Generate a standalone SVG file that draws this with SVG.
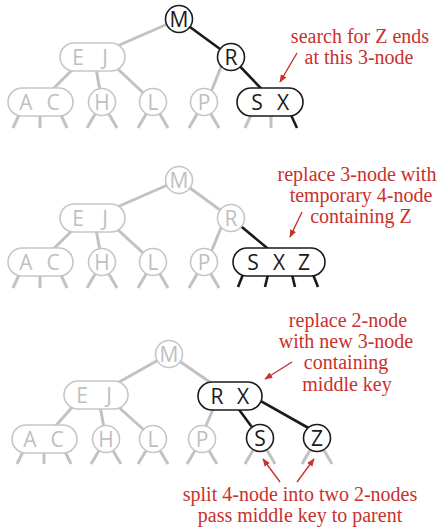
<svg xmlns="http://www.w3.org/2000/svg" width="444" height="529" viewBox="0 0 444 529">
<defs>
<style>
.ge{stroke:#c2c2c2;stroke-width:3;fill:none;stroke-linecap:butt}
.be{stroke:#1a1a1a;stroke-width:2.6;fill:none}
.gn{fill:#fff;stroke:#c6c6c6;stroke-width:1.6}
.bn{fill:#fff;stroke:#1a1a1a;stroke-width:1.6}
.gk{font-family:"Open Sans","DejaVu Sans",sans-serif;font-size:21px;fill:#bfbfbf;text-anchor:middle}
.bk{font-family:"Open Sans","DejaVu Sans",sans-serif;font-size:21px;fill:#1a1a1a;text-anchor:middle}
.note{font-family:"Liberation Serif","Times New Roman",serif;font-size:20px;fill:#c8312c;text-anchor:middle}
.arr{stroke:#c8312c;stroke-width:1.4;fill:none;marker-end:url(#ah)}
</style>
<marker id="ah" viewBox="0 0 10 10" refX="9" refY="5" markerWidth="8" markerHeight="8" markerUnits="userSpaceOnUse" orient="auto">
<path d="M0,1 L10,5 L0,9 z" fill="#c8312c"/>
</marker>
</defs>

<g id="connectors">
<!-- panel 1 -->
<line class="ge" x1="179" y1="19" x2="92" y2="57"/>
<line class="be" x1="179" y1="19" x2="231" y2="57"/>
<line class="ge" x1="85" y1="57" x2="40" y2="102"/>
<line class="ge" x1="94" y1="57" x2="102" y2="102"/>
<line class="ge" x1="105" y1="57" x2="153" y2="102"/>
<line class="ge" x1="225" y1="57" x2="207" y2="102"/>
<line class="be" x1="231" y1="57" x2="274" y2="102"/>
<!-- panel 1 legs -->
<line class="ge" x1="25" y1="102" x2="13" y2="128"/>
<line class="ge" x1="40" y1="102" x2="40" y2="128"/>
<line class="ge" x1="55" y1="102" x2="67" y2="128"/>
<line class="ge" x1="102" y1="102" x2="87" y2="128"/>
<line class="ge" x1="102" y1="102" x2="117" y2="128"/>
<line class="ge" x1="153" y1="102" x2="138" y2="128"/>
<line class="ge" x1="153" y1="102" x2="168" y2="128"/>
<line class="ge" x1="204" y1="102" x2="189" y2="128"/>
<line class="ge" x1="204" y1="102" x2="219" y2="128"/>
<line class="ge" x1="257" y1="102" x2="245" y2="128"/>
<line class="ge" x1="271" y1="102" x2="271" y2="128"/>
<line class="be" x1="285" y1="102" x2="297" y2="128"/>

<!-- panel 2 -->
<line class="ge" x1="179" y1="180" x2="92" y2="218"/>
<line class="ge" x1="179" y1="180" x2="231" y2="218"/>
<line class="ge" x1="85" y1="218" x2="40" y2="262"/>
<line class="ge" x1="94" y1="218" x2="102" y2="262"/>
<line class="ge" x1="105" y1="218" x2="153" y2="262"/>
<line class="ge" x1="225" y1="218" x2="207" y2="262"/>
<line class="be" x1="231" y1="218" x2="284" y2="262"/>
<line class="ge" x1="25" y1="262" x2="13" y2="288"/>
<line class="ge" x1="40" y1="262" x2="40" y2="288"/>
<line class="ge" x1="55" y1="262" x2="67" y2="288"/>
<line class="ge" x1="102" y1="262" x2="87" y2="288"/>
<line class="ge" x1="102" y1="262" x2="117" y2="288"/>
<line class="ge" x1="153" y1="262" x2="138" y2="288"/>
<line class="ge" x1="153" y1="262" x2="168" y2="288"/>
<line class="ge" x1="204" y1="262" x2="189" y2="288"/>
<line class="ge" x1="204" y1="262" x2="219" y2="288"/>
<line class="be" x1="248" y1="262" x2="238" y2="287"/>
<line class="be" x1="271" y1="262" x2="265" y2="287"/>
<line class="be" x1="289" y1="262" x2="295" y2="287"/>
<line class="be" x1="308" y1="262" x2="318" y2="287"/>

<!-- panel 3 -->
<line class="ge" x1="169" y1="354" x2="96" y2="395"/>
<line class="ge" x1="169" y1="354" x2="230" y2="396"/>
<line class="ge" x1="83" y1="395" x2="44" y2="439"/>
<line class="ge" x1="98" y1="395" x2="106" y2="439"/>
<line class="ge" x1="105" y1="395" x2="154" y2="439"/>
<line class="ge" x1="219" y1="396" x2="200" y2="439"/>
<line class="be" x1="229" y1="396" x2="260" y2="438"/>
<line class="be" x1="252" y1="396" x2="312" y2="430"/>
<line class="ge" x1="29" y1="439" x2="17" y2="464"/>
<line class="ge" x1="44" y1="439" x2="44" y2="464"/>
<line class="ge" x1="59" y1="439" x2="71" y2="464"/>
<line class="ge" x1="106" y1="439" x2="91" y2="464"/>
<line class="ge" x1="106" y1="439" x2="121" y2="464"/>
<line class="ge" x1="153" y1="439" x2="138" y2="464"/>
<line class="ge" x1="153" y1="439" x2="168" y2="464"/>
<line class="ge" x1="202" y1="439" x2="187" y2="464"/>
<line class="ge" x1="202" y1="439" x2="217" y2="464"/>
<line class="ge" x1="260" y1="438" x2="245" y2="464"/>
<line class="ge" x1="260" y1="438" x2="275" y2="464"/>
<line class="ge" x1="317" y1="438" x2="302" y2="464"/>
<line class="ge" x1="317" y1="438" x2="332" y2="464"/>

<!-- annotation arrows -->
<line class="arr" x1="297" y1="53" x2="280" y2="82"/>
<line class="arr" x1="302" y1="212" x2="290" y2="237"/>
<line class="arr" x1="292" y1="362" x2="265" y2="379"/>
<line class="arr" x1="280" y1="482" x2="263" y2="459"/>
<line class="arr" x1="297" y1="482" x2="314" y2="459"/>
</g>

<!-- panel 1 nodes -->
<g id="p1-M"><circle class="bn" cx="179" cy="19" r="13.5"/><text class="bk" x="179" y="26.5">M</text></g>
<g id="p1-EJ"><rect class="gn" x="60" y="43" width="65" height="28" rx="14"/><text class="gk" x="78" y="64.5">E</text><text class="gk" x="105" y="64.5">J</text></g>
<g id="p1-R"><circle class="bn" cx="231" cy="57" r="13.5"/><text class="bk" x="231" y="64.5">R</text></g>
<g id="p1-AC"><rect class="gn" x="8" y="88" width="65" height="28" rx="14"/><text class="gk" x="26" y="109.5">A</text><text class="gk" x="53" y="109.5">C</text></g>
<g id="p1-H"><circle class="gn" cx="102" cy="102" r="13.5"/><text class="gk" x="102" y="109.5">H</text></g>
<g id="p1-L"><circle class="gn" cx="153" cy="102" r="13.5"/><text class="gk" x="153" y="109.5">L</text></g>
<g id="p1-P"><circle class="gn" cx="204" cy="102" r="13.5"/><text class="gk" x="204" y="109.5">P</text></g>
<g id="p1-SX"><rect class="bn" x="237" y="88" width="66" height="28" rx="14"/><text class="bk" x="257" y="109.5">S</text><text class="bk" x="283" y="109.5">X</text></g>

<!-- panel 2 nodes -->
<g id="p2-M"><circle class="gn" cx="179" cy="180" r="13.5"/><text class="gk" x="179" y="187.5">M</text></g>
<g id="p2-EJ"><rect class="gn" x="60" y="204" width="65" height="28" rx="14"/><text class="gk" x="78" y="225.5">E</text><text class="gk" x="105" y="225.5">J</text></g>
<g id="p2-R"><circle class="gn" cx="231" cy="218" r="13.5"/><text class="gk" x="231" y="225.5">R</text></g>
<g id="p2-AC"><rect class="gn" x="8" y="248" width="65" height="28" rx="14"/><text class="gk" x="26" y="269.5">A</text><text class="gk" x="53" y="269.5">C</text></g>
<g id="p2-H"><circle class="gn" cx="102" cy="262" r="13.5"/><text class="gk" x="102" y="269.5">H</text></g>
<g id="p2-L"><circle class="gn" cx="153" cy="262" r="13.5"/><text class="gk" x="153" y="269.5">L</text></g>
<g id="p2-P"><circle class="gn" cx="204" cy="262" r="13.5"/><text class="gk" x="204" y="269.5">P</text></g>
<g id="p2-SXZ"><rect class="bn" x="233" y="248" width="92" height="28" rx="14"/><text class="bk" x="253" y="269.5">S</text><text class="bk" x="279" y="269.5">X</text><text class="bk" x="304" y="269.5">Z</text></g>

<!-- panel 3 nodes -->
<g id="p3-M"><circle class="gn" cx="169" cy="354" r="13.5"/><text class="gk" x="169" y="361.5">M</text></g>
<g id="p3-EJ"><rect class="gn" x="64" y="381" width="64" height="28" rx="14"/><text class="gk" x="82" y="402.5">E</text><text class="gk" x="109" y="402.5">J</text></g>
<g id="p3-RX"><rect class="bn" x="198" y="382" width="64" height="28" rx="14"/><text class="bk" x="217" y="403.5">R</text><text class="bk" x="243" y="403.5">X</text></g>
<g id="p3-AC"><rect class="gn" x="12" y="425" width="65" height="28" rx="14"/><text class="gk" x="30" y="446.5">A</text><text class="gk" x="57" y="446.5">C</text></g>
<g id="p3-H"><circle class="gn" cx="106" cy="439" r="13.5"/><text class="gk" x="106" y="446.5">H</text></g>
<g id="p3-L"><circle class="gn" cx="153" cy="439" r="13.5"/><text class="gk" x="153" y="446.5">L</text></g>
<g id="p3-P"><circle class="gn" cx="202" cy="439" r="13.5"/><text class="gk" x="202" y="446.5">P</text></g>
<g id="p3-S"><circle class="bn" cx="260" cy="438" r="13.5"/><text class="bk" x="260" y="445.5">S</text></g>
<g id="p3-Z"><circle class="bn" cx="317" cy="438" r="13.5"/><text class="bk" x="317" y="445.5">Z</text></g>

<!-- annotations -->
<g id="notes">
<text class="note" x="360" y="43">search for Z ends</text>
<text class="note" x="359" y="64">at this 3-node</text>
<text class="note" x="357" y="181">replace 3-node with</text>
<text class="note" x="361" y="202">temporary 4-node</text>
<text class="note" x="361" y="223">containing Z</text>
<text class="note" x="348" y="327">replace 2-node</text>
<text class="note" x="346" y="348">with new 3-node</text>
<text class="note" x="346" y="369">containing</text>
<text class="note" x="347" y="391">middle key</text>
<text class="note" x="300" y="501">split 4-node into two 2-nodes</text>
<text class="note" x="300" y="522">pass middle key to parent</text>
</g>
</svg>
